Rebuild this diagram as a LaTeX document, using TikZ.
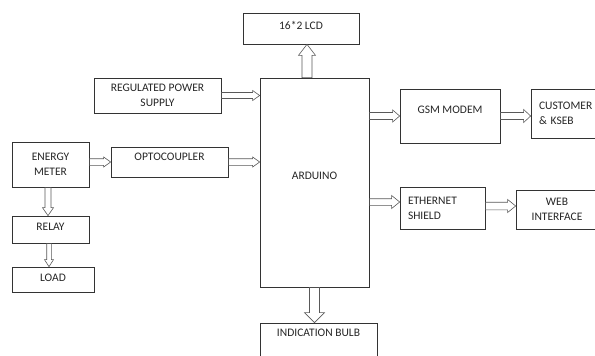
\documentclass[tikz,border=0pt]{standalone}
\usepackage{fontspec}
\setmainfont{Carlito}
\usetikzlibrary{calc}
\begin{document}
\begin{tikzpicture}[x=1pt,y=-1pt,
  blk/.style={draw=black!80, line width=0.7pt, inner sep=0pt, align=center,
    text=black!85, font=\fontsize{11.5}{15}\selectfont},
  aw/.store in=\aw, ah/.store in=\ah, al/.store in=\al,
  aw=3pt, ah=5pt, al=7pt,
  hollow/.style={draw=black!65, line width=0.6pt, to path={
     ($(\tikztotarget)!\al!(\tikztostart)$) coordinate (hb)
     ($(\tikztostart)!\aw!90:(\tikztotarget)$)
     -- ($(hb)!\aw!90:(\tikztotarget)$)
     -- ($(hb)!\ah!90:(\tikztotarget)$)
     -- (\tikztotarget)
     -- ($(hb)!\ah!-90:(\tikztotarget)$)
     -- ($(hb)!\aw!-90:(\tikztotarget)$)
     -- ($(\tikztostart)!\aw!-90:(\tikztotarget)$)
     -- cycle}}
]
\clip (0,0) rectangle (595,356);
\fill[white] (0,0) rectangle (595,356);

% boxes
\node[blk, minimum width=116pt, minimum height=31pt, text depth=7pt] (lcd) at (301,28.5) {16*2 LCD};
\node[blk, minimum width=109pt, minimum height=209pt, text depth=13pt] (ard) at (314.5,182.5) {ARDUINO};
\node[blk, minimum width=127pt, minimum height=35pt] (reg) at (157.5,95.5) {REGULATED POWER\\SUPPLY};
\node[blk, minimum width=77pt, minimum height=45pt] (meter) at (50.5,164.5) {ENERGY\\METER};
\node[blk, minimum width=117pt, minimum height=30pt, text depth=10pt] (opto) at (169.5,162) {OPTOCOUPLER};
\node[blk, minimum width=77pt, minimum height=27pt, text depth=6pt] (relay) at (50.5,229.5) {RELAY};
\node[blk, minimum width=82pt, minimum height=25pt, text depth=3pt] (load) at (53,279.5) {LOAD};
\node[blk, minimum width=117pt, minimum height=40pt, text depth=20pt] (bulb) at (318.5,343) {INDICATION BULB};
\node[blk, minimum width=100pt, minimum height=54pt, text depth=12pt] (gsm) at (450,116) {GSM MODEM};
\node[blk, text width=55pt, inner xsep=8pt, align=left, minimum height=49pt] (cust) at (566.5,113.5) {CUSTOMER\\\& KSEB};
\node[blk, text width=69pt, inner xsep=8pt, align=left, minimum height=42pt] (eth) at (442.5,208) {ETHERNET\\SHIELD};
\node[blk, minimum width=82pt, minimum height=39pt] (web) at (557,209.5) {WEB\\INTERFACE};

% connector end points
\coordinate (l1) at ([xshift=-7.5pt]ard.north);
\coordinate (l2) at (l1 |- lcd.south);
\coordinate (r2) at (reg.east -| ard.west);
\coordinate (m1) at (meter.east |- opto.west);
\coordinate (o2) at (opto.east -| ard.west);
\coordinate (mr1) at ([xshift=-2.5pt]meter.south);
\coordinate (mr2) at (mr1 |- relay.north);
\coordinate (rl1) at ([xshift=-1.5pt]relay.south);
\coordinate (rl2) at (rl1 |- load.north);
\coordinate (b2) at (ard.south |- bulb.north);
\coordinate (g1) at (ard.east |- gsm.west);
\coordinate (c2) at (gsm.east -| cust.west);
\coordinate (e0) at ([yshift=6pt]eth.west);
\coordinate (e1) at (ard.east |- e0);
\coordinate (w1) at ([yshift=2pt]eth.east);
\coordinate (w2) at (w1 -| web.west);

% hollow arrows
\draw[hollow, aw=5pt, ah=8.5pt, al=11pt] (l1) to (l2);
\draw[hollow, aw=3pt, ah=5pt, al=7pt] (reg.east) to (r2);
\draw[hollow, aw=3.3pt, ah=5pt, al=7pt] (m1) to (opto.west);
\draw[hollow, aw=3.3pt, ah=5pt, al=7pt] (opto.east) to (o2);
\draw[hollow, aw=3pt, ah=5.5pt, al=8pt] (mr1) to (mr2);
\draw[hollow, aw=2.3pt, ah=4.5pt, al=7pt] (rl1) to (rl2);
\draw[hollow, aw=5pt, ah=10pt, al=10pt] (ard.south) to (b2);
\draw[hollow, aw=3.5pt, ah=6pt, al=7pt] (g1) to (gsm.west);
\draw[hollow, aw=3.5pt, ah=6.5pt, al=7pt] (gsm.east) to (c2);
\draw[hollow, aw=3.3pt, ah=6.5pt, al=8pt] (e1) to (e0);
\draw[hollow, aw=3.8pt, ah=6.5pt, al=8pt] (w1) to (w2);
\end{tikzpicture}
\end{document}
